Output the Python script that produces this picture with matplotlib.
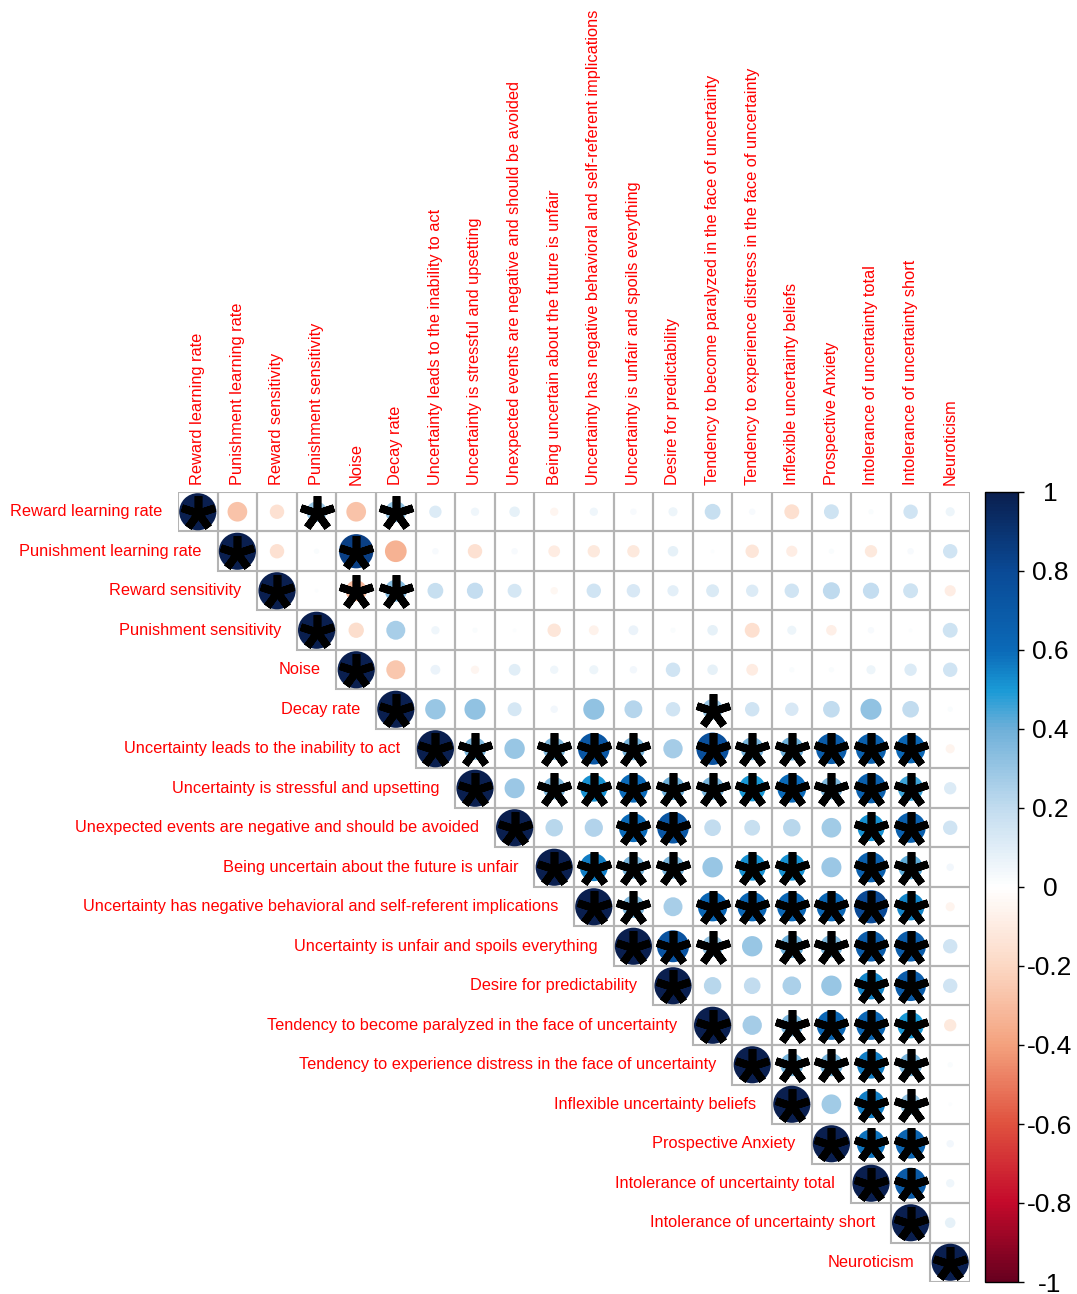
import numpy as np
import matplotlib
matplotlib.use("Agg")
import matplotlib.pyplot as plt
from matplotlib.colors import LinearSegmentedColormap, Normalize
from matplotlib.patches import Circle, Rectangle
from matplotlib.cm import ScalarMappable

plt.rcParams['font.family'] = ['Liberation Sans', 'DejaVu Sans']

labels = ["Reward learning rate", "Punishment learning rate", "Reward sensitivity",
          "Punishment sensitivity", "Noise", "Decay rate",
          "Uncertainty leads to the inability to act",
          "Uncertainty is stressful and upsetting",
          "Unexpected events are negative and should be avoided",
          "Being uncertain about the future is unfair",
          "Uncertainty has negative behavioral and self-referent implications",
          "Uncertainty is unfair and spoils everything",
          "Desire for predictability",
          "Tendency to become paralyzed in the face of uncertainty",
          "Tendency to experience distress in the face of uncertainty",
          "Inflexible uncertainty beliefs", "Prospective Anxiety",
          "Intolerance of uncertainty total", "Intolerance of uncertainty short",
          "Neuroticism"]

# upper triangle, each row starts at the diagonal
r0 = [1, -0.28, -0.15, 0.30, -0.28, 0.32, 0.11, 0.05, 0.08, -0.05, 0.05, 0.03, 0.06, 0.18, 0.03, -0.16, 0.16, 0.02, 0.15, 0.06]
r1 = [1, -0.15, 0.02, 0.85, -0.34, 0.03, -0.15, 0.03, -0.10, -0.11, -0.11, 0.08, 0.01, -0.13, -0.09, 0.02, -0.11, 0.03, 0.15]
r2 = [1, 0.01, -0.32, 0.35, 0.18, 0.19, 0.14, -0.04, 0.15, 0.13, 0.09, 0.12, 0.11, 0.15, 0.21, 0.19, 0.16, -0.09]
r3 = [1, -0.17, 0.26, 0.05, 0.02, 0.01, -0.13, -0.07, 0.07, 0.02, 0.08, -0.16, 0.06, -0.08, 0.03, 0.01, 0.16]
r4 = [1, -0.26, 0.07, -0.05, 0.10, 0.05, 0.06, 0.04, 0.15, 0.08, -0.10, 0.02, 0.02, 0.06, 0.11, 0.15]
r5 = [1, 0.30, 0.32, 0.14, 0.04, 0.32, 0.23, 0.15, 0.30, 0.15, 0.13, 0.20, 0.32, 0.20, 0.02]
r6 = [1, 0.36, 0.30, 0.36, 0.72, 0.38, 0.27, 0.76, 0.38, 0.40, 0.68, 0.66, 0.62, -0.06]
r7 = [1, 0.29, 0.36, 0.52, 0.60, 0.40, 0.38, 0.50, 0.60, 0.36, 0.66, 0.46, 0.11]
r8 = [1, 0.22, 0.24, 0.60, 0.72, 0.20, 0.18, 0.22, 0.28, 0.52, 0.66, 0.15]
r9 = [1, 0.56, 0.38, 0.38, 0.30, 0.52, 0.52, 0.29, 0.66, 0.42, 0.04]
r10 = [1, 0.36, 0.26, 0.62, 0.62, 0.62, 0.62, 0.80, 0.54, -0.06]
r11 = [1, 0.74, 0.32, 0.30, 0.40, 0.36, 0.68, 0.68, 0.15]
r12 = [1, 0.22, 0.20, 0.25, 0.30, 0.54, 0.68, 0.15]
r13 = [1, 0.27, 0.36, 0.62, 0.62, 0.50, -0.11]
r14 = [1, 0.38, 0.38, 0.56, 0.38, 0.02]
r15 = [1, 0.28, 0.56, 0.32, 0.01]
r16 = [1, 0.58, 0.64, 0.04]
r17 = [1, 0.70, 0.05]
r18 = [1, 0.08]
r19 = [1]
rows = [r0, r1, r2, r3, r4, r5, r6, r7, r8, r9, r10, r11, r12, r13, r14, r15, r16, r17, r18, r19]

# columns marked with * (p < .05)
sig = [[0, 3, 5], [1, 4], [2, 4, 5], [3], [4], [5, 13],
       [6, 7, 9, 10, 11, 13, 14, 15, 16, 17, 18],
       [7, 9, 10, 11, 12, 13, 14, 15, 16, 17, 18],
       [8, 11, 12, 17, 18],
       [9, 10, 11, 12, 14, 15, 17, 18],
       [10, 11, 13, 14, 15, 16, 17, 18],
       [11, 12, 13, 15, 16, 17, 18],
       [12, 17, 18], [13, 15, 16, 17, 18], [14, 15, 16, 17, 18],
       [15, 17, 18], [16, 17, 18], [17, 18], [18], [19]]

cb_ticks = [-1, -0.8, -0.6, -0.4, -0.2, 0, 0.2, 0.4, 0.6, 0.8, 1]
cb_labels = ["-1", "-0.8", "-0.6", "-0.4", "-0.2", "0", "0.2", "0.4", "0.6", "0.8", "1"]

cmap = LinearSegmentedColormap.from_list("corr", [
    (0.0, "#67001f"), (0.1, "#c40a2b"), (0.2, "#e0523f"), (0.3, "#f4a27e"),
    (0.4, "#fcd8c4"), (0.5, "#ffffff"), (0.6, "#c2dcef"), (0.7, "#6fb0d9"),
    (0.75, "#1a9ad6"), (0.8, "#0b6ab8"), (0.9, "#0a4a96"), (1.0, "#0a1f4f")])
norm = Normalize(-1, 1)

W, H = 1077, 1294
fig = plt.figure(figsize=(W / 100, H / 100), dpi=100)
ax = fig.add_axes([178 / W, 1 - 1282 / H, 792 / W, 790 / H])
ax.set_xlim(-0.5, 19.5)
ax.set_ylim(19.5, -0.5)
ax.axis('off')

n = len(labels)
for i in range(n):
    for k, v in enumerate(rows[i]):
        j = i + k
        ax.add_patch(Rectangle((j - 0.5, i - 0.5), 1, 1, facecolor='none',
                               edgecolor='#b4b4b4', lw=1.5, zorder=1))
        ax.add_patch(Circle((j, i), 0.47 * np.sqrt(abs(v)), color=cmap(norm(v)),
                            lw=0, zorder=2))
    for j in sig[i]:
        ax.plot(j, i + 0.04, marker=(5, 2, 0), ms=25, mew=5.5, color='black', zorder=3)

for i, lab in enumerate(labels):
    ax.text(i - 0.9, i, lab, ha='right', va='center', color='red', fontsize=11.8)
    ax.text(i, -0.68, lab, ha='center', va='bottom', rotation=90, color='red', fontsize=11.8)

cax = fig.add_axes([985 / W, 1 - 1282 / H, 33 / W, 790 / H])
cb = fig.colorbar(ScalarMappable(norm=norm, cmap=cmap), cax=cax, ticks=cb_ticks)
cb.ax.set_yticklabels(cb_labels)
cb.ax.tick_params(labelsize=19, length=4, width=1, pad=19)
for t in cb.ax.get_yticklabels():
    t.set_horizontalalignment('center')
cb.outline.set_linewidth(1)

fig.savefig("out.png", dpi=100)
